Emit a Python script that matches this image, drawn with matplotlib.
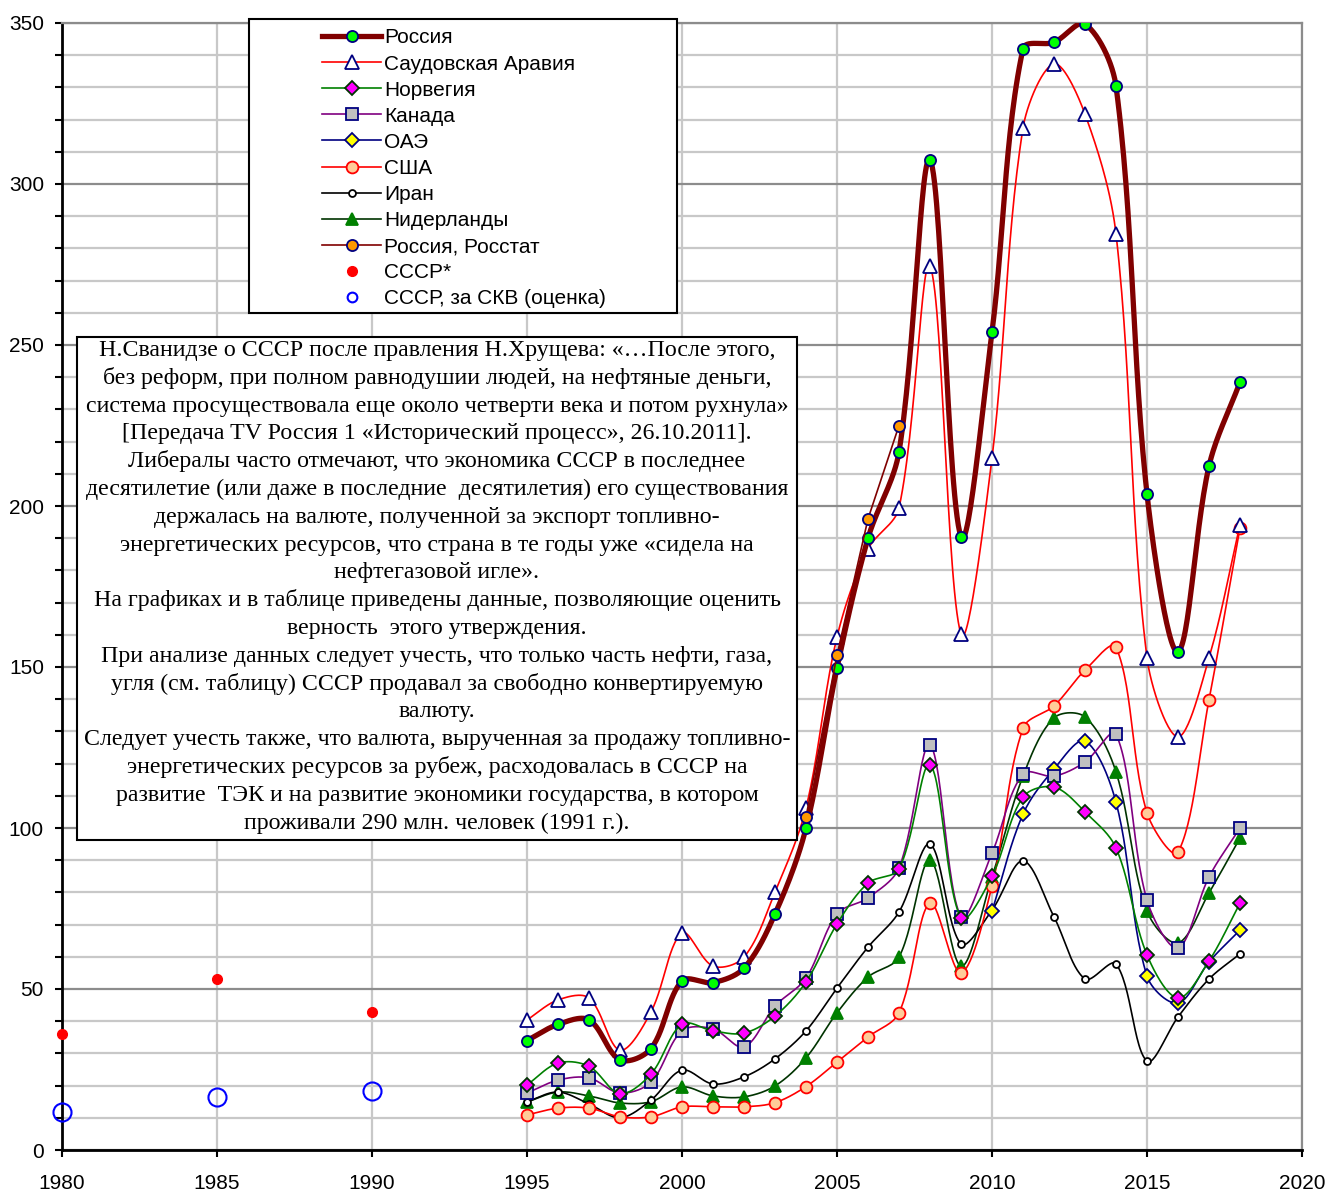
import numpy as np
import matplotlib.pyplot as plt
from matplotlib.lines import Line2D
from matplotlib.patches import Rectangle
from matplotlib.ticker import MultipleLocator

plt.rcParams['font.family'] = ['Liberation Sans', 'DejaVu Sans']

# Данные, млрд долл.
years = list(range(1995, 2019))
russia = [34, 39, 40.4, 28, 31.5, 52.5, 52, 56.5, 73.3, 100, 149.7, 190, 216.8, 307.5,
          190.4, 254, 342, 344, 349.7, 330.4, 203.7, 154.7, 212.4, 238.5]
saudi = [40.4, 46.6, 47.2, 31, 42.9, 67.4, 57.1, 59.9, 80.1, 106.2, 159.3, 186.6, 199.4, 274.5,
         160.2, 214.9, 317.4, 337.3, 321.7, 284.5, 152.8, 128.3, 152.8, 194.1]
norway = [20.2, 27, 26, 17.5, 23.6, 39.1, 37, 36.3, 41.6, 52.2, 70.2, 82.9, 87.3, 119.6,
          72, 85, 109.6, 112.7, 105, 93.8, 60.6, 47.2, 58.7, 76.7]
canada = [17.7, 21.7, 22.4, 17.7, 21.1, 37, 37.6, 32, 44.7, 53.4, 73.3, 78.3, 87.6, 125.8,
          72.4, 92.2, 116.8, 116.1, 120.5, 129.2, 77.6, 62.7, 84.8, 100]
usa = [10.9, 13, 13, 10.3, 10.3, 13.4, 13.4, 13.4, 14.7, 19.7, 27.3, 35.1, 42.6, 76.7,
       55, 82, 131, 137.9, 149, 156.2, 104.7, 92.5, 139.8, 193.2]
iran = [15, 18, 14.3, 10, 15.5, 24.8, 20.5, 22.7, 28.3, 37, 50.3, 63, 73.9, 95,
        64, 74.5, 89.8, 72.4, 53.1, 57.8, 27.6, 41.3, 53.1, 60.9]
netherlands = [14.9, 18, 16.8, 14.6, 15, 19.6, 16.8, 16.5, 19.9, 28.6, 42.6, 53.7, 59.9, 90,
               57.1, 84.8, 116.1, 134.2, 134.5, 117.4, 74.2, 64.3, 79.8, 96.9]

uae_years = list(range(2010, 2019))
uae = [74.2, 104.3, 118.3, 127, 108, 54, 45.6, 58.4, 68.3]

rosstat_years = [2004, 2005, 2006, 2007]
rosstat = [103.4, 153.7, 196, 225]

ussr_years = [1980, 1985, 1990]
ussr = [36, 53.1, 42.8]
ussr_skv = [11.8, 16.5, 18.3]

W, H = 1328, 1191
KX = (1302 - 62) / 40     # пикселей на год
KY = (1150 - 23) / 350    # пикселей на единицу


def smooth(x, y, n=30):
    # сглаживание примерно как в Excel: Безье, касательные с учётом длин отрезков (в пикселях)
    p = np.column_stack([np.asarray(x, float) * KX, np.asarray(y, float) * KY])
    pe = np.vstack([p[0], p, p[-1]])
    t = np.linspace(0, 1, n)[:, None]
    out = []
    for i in range(len(p) - 1):
        p0, p1, p2, p3 = pe[i], pe[i + 1], pe[i + 2], pe[i + 3]
        d01 = np.hypot(*(p1 - p0))
        d12 = np.hypot(*(p2 - p1))
        d23 = np.hypot(*(p3 - p2))
        c1 = p1 + (p2 - p0) * d12 / (d01 + d12) / 3
        c2 = p2 - (p3 - p1) * d12 / (d12 + d23) / 3
        b = (1 - t) ** 3 * p1 + 3 * (1 - t) ** 2 * t * c1 + 3 * (1 - t) * t ** 2 * c2 + t ** 3 * p2
        out.append(b)
    b = np.vstack(out)
    return b[:, 0] / KX, b[:, 1] / KY


fig = plt.figure(figsize=(W / 100, H / 100), dpi=100)
ax = fig.add_axes([62 / W, 1 - 1150 / H, (1302 - 62) / W, (1150 - 23) / H])

series = [
    # label, x, y, line color, lw, marker, ms, face, edge
    ("Нидерланды", years, netherlands, "#003300", 1.2, "^", 9, "#008000", "#008000"),
    ("Иран", years, iran, "black", 1.2, "o", 5, "white", "black"),
    ("США", years, usa, "#FF0000", 1.2, "o", 8.5, "#FFCC99", "#FF0000"),
    ("ОАЭ", uae_years, uae, "#000080", 1.2, "D", 7, "#FFFF00", "#000080"),
    ("Канада", years, canada, "#800080", 1.2, "s", 8.5, "#C0C0C0", "#000080"),
    ("Норвегия", years, norway, "#008000", 1.2, "D", 7, "#FF00FF", "#003300"),
    ("Саудовская Аравия", years, saudi, "#FF0000", 1.2, "^", 10, "white", "#000080"),
    ("Россия", years, russia, "#800000", 3.8, "o", 8, "#00FF00", "#000080"),
]

handles = {}
z = 3
for label, xx, yy, col, lw, mk, ms, fc, ec in series:
    sx, sy = smooth(xx, yy)
    ax.plot(sx, sy, color=col, lw=lw, zorder=z)
    ax.plot(xx, yy, ls="none", marker=mk, ms=ms, mfc=fc, mec=ec, mew=1.3, zorder=z + 0.5)
    handles[label] = Line2D([], [], color=col, lw=lw, marker=mk, ms=ms, mfc=fc, mec=ec, mew=1.3)
    z += 1

ax.plot(rosstat_years, rosstat, color="#800000", lw=1.2, marker="o", ms=8, mfc="#FF9900",
        mec="#000080", mew=1.3, zorder=z)
handles["Россия, Росстат"] = Line2D([], [], color="#800000", lw=1.2, marker="o", ms=8,
                                    mfc="#FF9900", mec="#000080", mew=1.3)
ax.plot(ussr_years, ussr, ls="none", marker="o", ms=7, mfc="#FF0000", mec="#FF0000",
        zorder=z, clip_on=False)
handles["СССР*"] = Line2D([], [], ls="none", marker="o", ms=7, mfc="#FF0000", mec="#FF0000")
ax.plot(ussr_years, ussr_skv, ls="none", marker="o", ms=13, mfc="none", mec="#0000FF",
        mew=1.5, zorder=z, clip_on=False)
handles["СССР, за СКВ (оценка)"] = Line2D([], [], ls="none", marker="o", ms=7, mfc="none",
                                           mec="#0000FF", mew=1.5)

ax.set_xlim(1980, 2020)
ax.set_ylim(0, 350)
ax.xaxis.set_major_locator(MultipleLocator(5))
ax.yaxis.set_major_locator(MultipleLocator(50))
ax.yaxis.set_minor_locator(MultipleLocator(10))
ax.set_axisbelow(True)
ax.grid(which="minor", axis="y", color="#C8C8C8", lw=1.6)
ax.grid(which="major", axis="y", color="#8C8C8C", lw=1.6)
ax.grid(which="major", axis="x", color="#C8C8C8", lw=1.6)
ax.tick_params(axis="both", which="both", direction="out", width=1.5, color="black")
ax.tick_params(axis="x", which="major", length=5, pad=12, labelsize=15)
ax.tick_params(axis="y", which="major", length=5, pad=8, labelsize=15)
ax.tick_params(axis="y", which="minor", length=5)
for s in ["left", "bottom"]:
    ax.spines[s].set_color("black")
    ax.spines[s].set_linewidth(2)
for s in ["top", "right"]:
    ax.spines[s].set_color("#8C8C8C")
    ax.spines[s].set_linewidth(1.6)

# легенда
order = ["Россия", "Саудовская Аравия", "Норвегия", "Канада", "ОАЭ", "США", "Иран",
         "Нидерланды", "Россия, Росстат", "СССР*", "СССР, за СКВ (оценка)"]
fig.patches.append(Rectangle((249 / W, 1 - 313 / H), (677 - 249) / W, (313 - 19) / H,
                             transform=fig.transFigure, facecolor="white", edgecolor="black",
                             lw=1.5, zorder=10))
leg = fig.legend([handles[k] for k in order], order, loc="upper left",
                 bbox_to_anchor=(312 / W, 1 - 18 / H), frameon=False, fontsize=15,
                 handlelength=2.8, handletextpad=0.15, labelspacing=0.34, borderpad=0)
leg.set_zorder(11)

# текстовый блок
text_lines = [
    "Н.Сванидзе о СССР после правления Н.Хрущева: «…После этого,",
    "без реформ, при полном равнодушии людей, на нефтяные деньги,",
    "система просуществовала еще около четверти века и потом рухнула»",
    "[Передача TV Россия 1 «Исторический процесс», 26.10.2011].",
    "Либералы часто отмечают, что экономика СССР в последнее",
    "десятилетие (или даже в последние  десятилетия) его существования",
    "держалась на валюте, полученной за экспорт топливно-",
    "энергетических ресурсов, что страна в те годы уже «сидела на",
    "нефтегазовой игле».",
    "На графиках и в таблице приведены данные, позволяющие оценить",
    "верность  этого утверждения.",
    "При анализе данных следует учесть, что только часть нефти, газа,",
    "угля (см. таблицу) СССР продавал за свободно конвертируемую",
    "валюту.",
    "Следует учесть также, что валюта, вырученная за продажу топливно-",
    "энергетических ресурсов за рубеж, расходовалась в СССР на",
    "развитие  ТЭК и на развитие экономики государства, в котором",
    "проживали 290 млн. человек (1991 г.).",
]
fig.patches.append(Rectangle((77 / W, 1 - 840 / H), (797 - 77) / W, (840 - 337) / H,
                             transform=fig.transFigure, facecolor="white", edgecolor="black",
                             lw=1.5, zorder=10))
for i, line in enumerate(text_lines):
    fig.text(437 / W, 1 - (356 + i * 27.8) / H, line, ha="center", va="baseline",
             fontsize=17.2, family=["Liberation Serif", "DejaVu Serif"], zorder=12)

fig.savefig("out.png", dpi=100)
